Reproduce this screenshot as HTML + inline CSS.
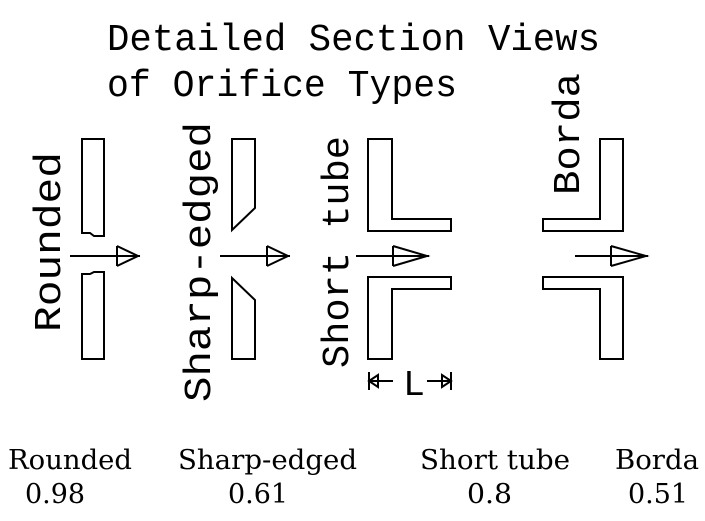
<!DOCTYPE html>
<html><head><style>html,body{margin:0;padding:0;background:#fff}svg{display:block}</style></head>
<body>
<svg width="705" height="521" viewBox="0 0 705 521" xmlns="http://www.w3.org/2000/svg">
<g font-family="Liberation Mono, DejaVu Sans Mono, monospace" fill="#000" font-size="38">
<text x="107" y="50" textLength="493" lengthAdjust="spacingAndGlyphs">Detailed Section Views</text>
<text x="107" y="96" textLength="350" lengthAdjust="spacingAndGlyphs">of Orifice Types</text>
<text transform="translate(60,332) rotate(-90)" textLength="180" lengthAdjust="spacingAndGlyphs">Rounded</text>
<text transform="translate(210,402) rotate(-90)" textLength="280" lengthAdjust="spacingAndGlyphs">Sharp-edged</text>
<text transform="translate(348,368) rotate(-90)" textLength="232" lengthAdjust="spacingAndGlyphs">Short tube</text>
<text transform="translate(579,195) rotate(-90)" textLength="122" lengthAdjust="spacingAndGlyphs">Borda</text>
<text x="403" y="395" font-size="36" textLength="22" lengthAdjust="spacingAndGlyphs">L</text>
</g>
<g fill="none" stroke="#000" stroke-width="2">
<path d="M82,139H104V236H94L90,233H82Z"/>
<path d="M82,359H104V272H94L90,274H82Z"/>
<path d="M232,139H255V208L232,230Z"/>
<path d="M232,359H255V300L232,278Z"/>
<path d="M368,139H392V219H451V231H368Z"/>
<path d="M368,359H392V289H451V277H368Z"/>
<path d="M600,139H623V231H543V219H600Z"/>
<path d="M600,359H623V277H543V289H600Z"/>
<path d="M70,256H140M117,246V266M117,246L138,256L117,266"/>
<path d="M220,256H290M267,246V266M267,246L288,256L267,266"/>
<path d="M356,256H429M393,246V266M393,246L427,256L393,266"/>
<path d="M575,256H648M611,246V266M611,246L646,256L611,266"/>
<path d="M369,372V390M369,381H393M369,381L378,375V387Z"/>
<path d="M451,372V390M427,381H451M451,381L442,375V387Z"/>
</g>
<g font-family="DejaVu Serif, Liberation Serif, serif" font-size="27" fill="#000">
<text x="8" y="469" textLength="124" lengthAdjust="spacingAndGlyphs">Rounded</text>
<text x="178" y="469" textLength="179" lengthAdjust="spacingAndGlyphs">Sharp-edged</text>
<text x="420" y="469" textLength="150" lengthAdjust="spacingAndGlyphs">Short tube</text>
<text x="615" y="469" textLength="84" lengthAdjust="spacingAndGlyphs">Borda</text>
<text x="25" y="503" textLength="60" lengthAdjust="spacingAndGlyphs">0.98</text>
<text x="228" y="503" textLength="60" lengthAdjust="spacingAndGlyphs">0.61</text>
<text x="467" y="503" textLength="45" lengthAdjust="spacingAndGlyphs">0.8</text>
<text x="628" y="503" textLength="60" lengthAdjust="spacingAndGlyphs">0.51</text>
</g>
</svg>
</body></html>
